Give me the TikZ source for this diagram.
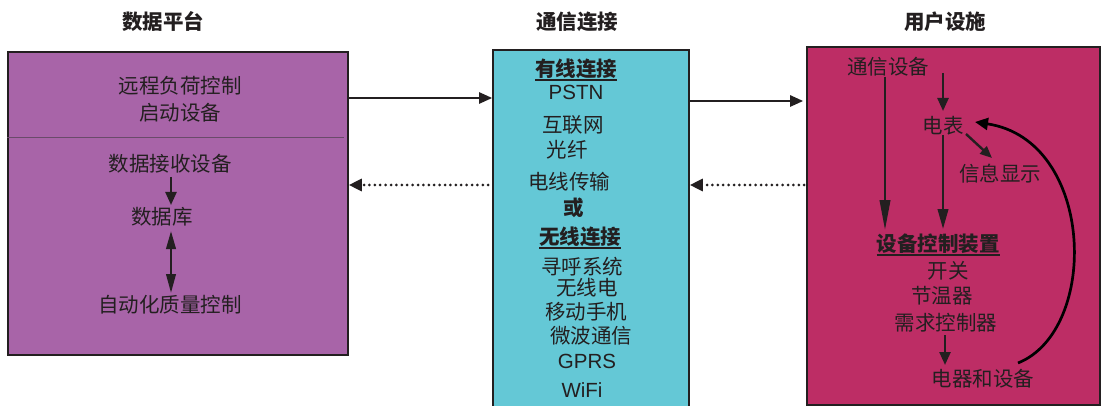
\documentclass[tikz,border=0pt]{standalone}
\usepackage{fontspec}
\setmainfont{Liberation Sans}
\newfontfamily\cjk{Noto Sans CJK SC}
\usetikzlibrary{arrows.meta,calc}
\definecolor{purp}{HTML}{A864A8}
\definecolor{cyanbox}{HTML}{64C8D6}
\definecolor{magbox}{HTML}{BD2D65}
\definecolor{ink}{HTML}{231F20}
\definecolor{divline}{HTML}{6A4A6A}
\newcommand\ulbar[1]{\setbox0\hbox{#1}\rlap{\rule[-4pt]{\wd0}{1.6pt}}\box0}
\tikzset{
  box/.style={draw=ink, line width=1.6pt, inner sep=0pt},
  txt/.style={inner sep=0pt, text=ink, font=\cjk\fontsize{20.5}{24}\selectfont},
  btxt/.style={inner sep=0pt, text=ink, font=\cjk\bfseries\fontsize{20.5}{24}\selectfont},
  ltxt/.style={inner sep=0pt, text=ink, font=\fontsize{20.5}{24}\selectfont},
  arr/.style={draw=ink, line width=2.4pt, -{Triangle[length=13pt,width=11pt]}},
  longarr/.style={draw=ink, line width=2.4pt, -{Triangle[length=#1,width=10.5pt]}},
  darr/.style={draw=ink, line width=2.4pt, {Triangle[length=18pt,width=9.5pt]}-{Triangle[length=19pt,width=9.5pt]}},
  dotarr/.style={draw=ink, line width=3pt, line cap=round, dash pattern=on 0pt off 5.4pt, -{Triangle[length=13pt,width=12pt]}},
  curvearr/.style={draw=black, line width=2.7pt, -{Triangle[length=13pt,width=12pt]}},
}
\begin{document}
\begin{tikzpicture}[x=1pt,y=-1pt]
\useasboundingbox (0,0) rectangle (1102,406);
\fill[white] (0,0) rectangle (1102,406);

% boxes
\node[box, fill=purp, minimum width=340pt, minimum height=303pt] (L) at (178,203.5) {};
\node[box, fill=cyanbox, minimum width=196pt, minimum height=362pt] (M) at (591,231) {};
\node[box, fill=magbox, minimum width=293pt, minimum height=358pt] (R) at (953.5,226) {};
\draw[divline, line width=0.8pt] (L.west |- 0,137) -- (344,137);

% titles
\node[btxt] (t1) at (163,22) {数据平台};
\node[btxt] (t2) at (577,22) {通信连接};
\node[btxt] (t3) at (945,22) {用户设施};

% box-to-box connectors
\coordinate (ya) at (0,98);
\coordinate (yb) at (0,185);
\coordinate (yc) at (0,101);
\draw[arr] (L.east |- ya) -- (M.west |- ya);
\draw[dotarr] ($(M.west |- yb)+(-4,0)$) -- (L.east |- yb);
\draw[arr] (M.east |- yc) -- ($(R.west |- yc)+(-3,0)$);
\draw[dotarr] ($(R.west |- yb)+(-2,0)$) -- (M.east |- yb);

% left box
\node[txt] (rlc) at (180,86) {远程负荷控制};
\node[txt] (start) at (180,113) {启动设备};
\node[txt] (recv) at (170,164) {数据接收设备};
\node[txt] (db) at (162,217) {数据库};
\node[txt] (qc) at (170,305) {自动化质量控制};
\draw[arr] ($(recv.center)+(1,13)$) -- ($(db.center)+(9,-12)$);
\draw[darr] ($(db.center)+(9,14)$) -- ($(qc.center)+(1,-12)$);

% middle box
\node[btxt] (wired) at (576,70) {\ulbar{有线连接}};
\node[ltxt] (pstn) at (576,92) {PSTN};
\node[txt] (inet) at (573,125) {互联网};
\node[txt] (fiber) at (567,150) {光纤};
\node[txt] (plc) at (569,182) {电线传输};
\node[btxt] (or) at (574,208) {或};
\node[btxt] (wless) at (580,238) {\ulbar{无线连接}};
\node[txt] (pager) at (582,267) {寻呼系统};
\node[txt] (radio) at (587,288) {无线电};
\node[txt] (mobile) at (586,312) {移动手机};
\node[txt] (micro) at (591,336) {微波通信};
\node[ltxt] (gprs) at (587,361) {GPRS};
\node[ltxt] (wifi) at (582,390) {WiFi};

% right box
\node[txt] (comm) at (888,67) {通信设备};
\node[txt] (meter) at (943,126) {电表};
\node[txt] (info) at (1000,174) {信息显示};
\node[btxt] (ctrl) at (938,245) {\ulbar{设备控制装置}};
\node[txt] (sw) at (948,271) {开关};
\node[txt] (thermo) at (942,296) {节温器};
\node[txt] (dem) at (946,323) {需求控制器};
\node[txt] (app) at (983,379) {电器和设备};

\draw[longarr=30pt] ($(comm.center)+(-3,10)$) -- ($(ctrl.center)+(-53,-15)$);
\draw[arr] ($(comm.center)+(55,6)$) -- ($(meter.center)+(0,-15)$);
\draw[longarr=20pt] ($(meter.center)+(0,9)$) -- ($(ctrl.center)+(5,-16)$);
\draw[draw=ink, line width=2.4pt, -{Triangle[length=12pt,width=10pt]}] ($(meter.center)+(23,8)$) -- ($(info.center)+(-8,-16)$);
\draw[arr] ($(dem.center)+(-1,12)$) -- ($(app.center)+(-38,-14)$);
\draw[curvearr] ($(app.center)+(35,-16)$) .. controls (1100,330) and (1095,140) .. ($(meter.center)+(32,-4)$);
\end{tikzpicture}
\end{document}
